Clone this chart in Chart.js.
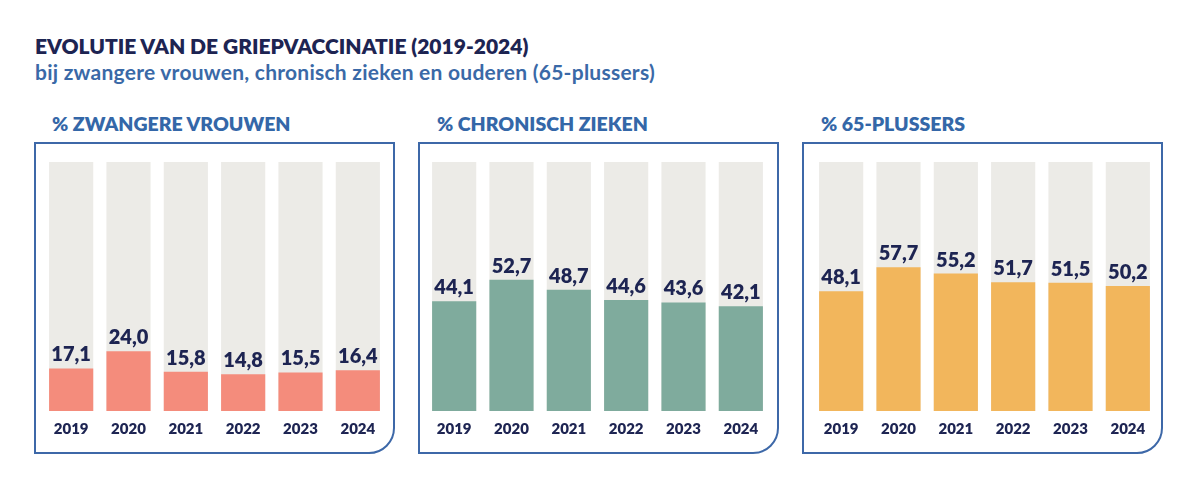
<!DOCTYPE html>
<html>
<head>
<meta charset="utf-8">
<script src="https://cdn.jsdelivr.net/npm/chart.js@4.4.0/dist/chart.umd.min.js"></script>
<style>
  html, body { margin: 0; padding: 0; background: #ffffff; }
  body { width: 1200px; height: 480px; position: relative; overflow: hidden; font-family: Lato, "Open Sans", sans-serif; }
  .title { position: absolute; left: 35px; top: 33px; font-weight: 800; font-size: 21px; color: #1d2452; white-space: nowrap; }
  .subtitle { position: absolute; left: 35px; top: 59px; font-weight: 700; font-size: 21px; letter-spacing: 0.25px; color: #3a69a7; white-space: nowrap; }
  .ptitle { position: absolute; top: 112px; font-weight: 800; font-size: 19.5px; color: #3467a8; white-space: nowrap; }
  .panel { position: absolute; top: 142px; width: 361px; height: 312px; box-sizing: border-box; border: 2px solid #3d68a8; border-bottom-right-radius: 26px; }
  .cwrap { position: absolute; top: 143px; width: 360px; height: 310px; }
</style>
</head>
<body>
<div class="title">EVOLUTIE VAN DE GRIEPVACCINATIE (2019-2024)</div>
<div class="subtitle">bij zwangere vrouwen, chronisch zieken en ouderen (65-plussers)</div>

<div class="ptitle" style="left:52px">% ZWANGERE VROUWEN</div>
<div class="ptitle" style="left:437px">% CHRONISCH ZIEKEN</div>
<div class="ptitle" style="left:821px">% 65-PLUSSERS</div>

<div class="panel" style="left:34px"></div>
<div class="panel" style="left:418px"></div>
<div class="panel" style="left:802px"></div>

<div class="cwrap" style="left:35px"><canvas id="c1"></canvas></div>
<div class="cwrap" style="left:419px"><canvas id="c2"></canvas></div>
<div class="cwrap" style="left:803px"><canvas id="c3"></canvas></div>

<script>
const years = ["2019", "2020", "2021", "2022", "2023", "2024"];
const zwangereVrouwen = [17.1, 24.0, 15.8, 14.8, 15.5, 16.4];
const chronischZieken = [44.1, 52.7, 48.7, 44.6, 43.6, 42.1];
const plussers65 = [48.1, 57.7, 55.2, 51.7, 51.5, 50.2];
const fullScale = [100, 100, 100, 100, 100, 100];

const NAVY = "#1d2452";
const GREY = "#ecebe7";

const valueLabels = {
  id: "valueLabels",
  afterDatasetsDraw(chart) {
    const ctx = chart.ctx;
    const meta = chart.getDatasetMeta(0);
    const data = chart.data.datasets[0].data;
    ctx.save();
    ctx.font = "800 20px Lato, 'Open Sans', sans-serif";
    ctx.fillStyle = NAVY;
    ctx.textAlign = "center";
    ctx.textBaseline = "alphabetic";
    meta.data.forEach((el, i) => {
      const txt = data[i].toFixed(1).replace(".", ",");
      ctx.fillText(txt, el.x, el.y - 7);
    });
    ctx.restore();
  }
};

function makeChart(id, values, color, padL, padR) {
  new Chart(document.getElementById(id), {
    type: "bar",
    data: {
      labels: years,
      datasets: [
        { data: values, backgroundColor: color, grouped: false, categoryPercentage: 1.0, barPercentage: 0.77 },
        { data: fullScale, backgroundColor: GREY, grouped: false, categoryPercentage: 1.0, barPercentage: 0.77 }
      ]
    },
    options: {
      responsive: true,
      maintainAspectRatio: false,
      animation: false,
      layout: { padding: { top: 19, bottom: 6, left: padL, right: padR } },
      plugins: { legend: { display: false }, tooltip: { enabled: false } },
      scales: {
        x: {
          grid: { display: false, drawTicks: false },
          border: { display: false },
          ticks: { color: NAVY, padding: 9, font: { family: "Lato, 'Open Sans', sans-serif", size: 15, weight: "800" } }
        },
        y: { display: false, min: 0, max: 100 }
      }
    },
    plugins: [valueLabels]
  });
}

makeChart("c1", zwangereVrouwen, "#f48c7c", 7.5, 8.5);
makeChart("c2", chronischZieken, "#7fab9d", 6.5, 9.5);
makeChart("c3", plussers65, "#f2b65c", 9.5, 6.5);
</script>
</body>
</html>
